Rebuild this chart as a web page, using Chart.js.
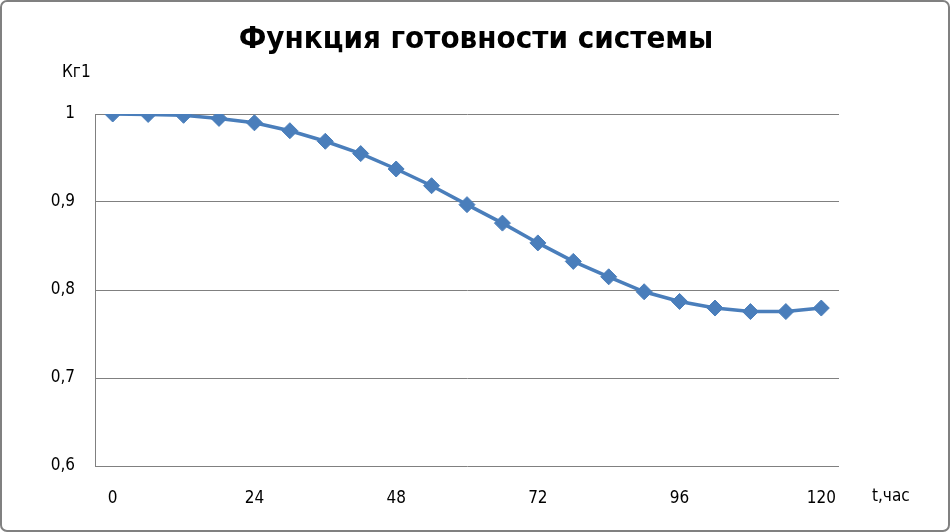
<!DOCTYPE html>
<html>
<head>
<meta charset="utf-8">
<script src="https://cdn.jsdelivr.net/npm/chart.js@4/dist/chart.umd.min.js"></script>
<style>
  body { margin: 0; background: #fff; }
  canvas { display: block; }
</style>
</head>
<body>
<canvas id="chart" width="950" height="532"></canvas>
<script>
// time, hours (step 6)
const hours = [0, 6, 12, 18, 24, 30, 36, 42, 48, 54, 60, 66, 72, 78, 84, 90, 96, 102, 108, 114, 120];
// availability Kг1(t)
const kg1 = [1.000, 0.9995, 0.9985, 0.995, 0.990, 0.981, 0.969, 0.955, 0.9375, 0.9185, 0.897,
  0.876, 0.8535, 0.8325, 0.815, 0.798, 0.787, 0.7795, 0.7755, 0.7755, 0.7795];
const yTicks = [0.6, 0.7, 0.8, 0.9, 1];

const titleText = 'Функция готовности системы';
const yTitle = 'Кг1';
const xTitle = 't,час';

const GREY = '#808080';
const BLUE = '#4a7ebb';
const FAMILY = "'Liberation Sans Narrow', 'DejaVu Sans Condensed', sans-serif";
const tickFont = { family: FAMILY, size: 17 };

// white background, frame, title and axis captions
const decor = {
  id: 'decor',
  beforeDraw(chart) {
    const c = chart.ctx;
    c.save();
    c.fillStyle = '#fff';
    c.fillRect(0, 0, chart.width, chart.height);
    c.restore();
  },
  afterDraw(chart) {
    const c = chart.ctx;
    c.save();
    c.strokeStyle = GREY;
    c.lineWidth = 2;
    c.beginPath();
    c.roundRect(1, 1, chart.width - 2, chart.height - 2, 6);
    c.stroke();
    c.fillStyle = '#000';
    c.textBaseline = 'middle';
    c.textAlign = 'center';
    c.font = `bold 31px ${FAMILY}`;
    c.fillText(titleText, 476, 40);
    c.textAlign = 'left';
    c.font = `${tickFont.size}px ${FAMILY}`;
    c.fillText(yTitle, 62, 73);
    c.fillText(xTitle, 872, 497);
    c.restore();
  }
};

new Chart(document.getElementById('chart'), {
  type: 'line',
  data: {
    labels: hours,
    datasets: [{
      data: kg1,
      borderColor: BLUE,
      backgroundColor: BLUE,
      borderWidth: 3.5,
      pointStyle: 'rectRot',
      pointRadius: 8,
      pointBorderWidth: 1,
      tension: 0
    }]
  },
  options: {
    responsive: false,
    animation: false,
    layout: { padding: { left: 0, right: 111, top: 114, bottom: 0 } },
    plugins: {
      legend: { display: false },
      tooltip: { enabled: false },
      title: { display: false }
    },
    scales: {
      x: {
        type: 'category',
        offset: true,
        grid: { display: false, drawTicks: false },
        border: { display: false },
        ticks: {
          autoSkip: false,
          maxRotation: 0,
          padding: 22,
          color: '#000',
          font: tickFont,
          callback: (v, i) => (i % 4 === 0 ? hours[i] : '')
        },
        afterFit: s => { s.height = 66; }
      },
      y: {
        min: 0.6,
        max: 1,
        afterBuildTicks: s => { s.ticks = yTicks.map(v => ({ value: v })); },
        grid: { color: GREY, lineWidth: 1, drawTicks: false },
        border: { display: true, color: GREY, width: 1 },
        ticks: {
          padding: 20,
          color: '#000',
          font: tickFont,
          callback: v => String(Math.round(v * 10) / 10).replace('.', ',')
        },
        afterFit: s => { s.width = 95; }
      }
    }
  },
  plugins: [decor]
});
</script>
</body>
</html>
